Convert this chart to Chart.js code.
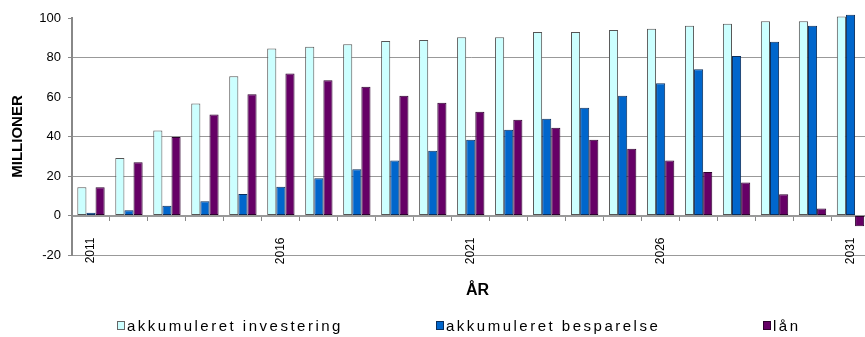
<!DOCTYPE html>
<html>
<head>
<meta charset="utf-8">
<script src="https://cdn.jsdelivr.net/npm/chart.js@4/dist/chart.umd.min.js"></script>
<style>
  html, body { margin: 0; padding: 0; background: #fff; overflow: hidden; width: 865px; height: 337px; }
  #wrap { position: relative; width: 865px; height: 337px; overflow: hidden; }
  #c { position: absolute; left: 0; top: 0; }
  #xtitle { position: absolute; left: 466px; top: 281px; font: bold 16px "Liberation Sans", Arial, sans-serif; color: #000; }
  #legend { position: absolute; left: 0; top: 316px; width: 865px; height: 20px; font: 15px "Liberation Sans", Arial, sans-serif; letter-spacing: 2.5px; color: #000; }
  .item { position: absolute; top: 0; white-space: nowrap; line-height: 20px; }
  .sw { display: inline-block; width: 6px; height: 7px; border: 1px solid #333; margin-right: 2px; vertical-align: 1px; }
</style>
</head>
<body>
<div id="wrap">
  <canvas id="c" width="883" height="337"></canvas>
  <div id="xtitle">ÅR</div>
  <div id="legend"></div>
</div>
<script>
// Years on the category axis
const years = ['2011','2012','2013','2014','2015','2016','2017','2018','2019','2020',
               '2021','2022','2023','2024','2025','2026','2027','2028','2029','2030','2031'];
// Only every fifth year gets a label
const labelledYears = ['2011','2016','2021','2026','2031'];
// Horizontal gridlines that are drawn (0 is the axis line itself)
const gridValues = [80, 40, 20, -20];

// Series, in millions
const seriesNames = ['akkumuleret investering', 'akkumuleret besparelse', 'lån'];
const investering = [14.3, 29.1, 43.1, 56.7, 70.5, 84.5, 85.4, 86.7, 88.4, 88.9,
                     90.2, 90.3, 92.9, 92.9, 93.9, 94.6, 96.1, 97.1, 98.3, 98.3, 100.7];
const besparelse  = [1.4, 2.7, 4.9, 7.2, 10.9, 14.5, 18.9, 23.4, 27.8, 32.8,
                     38.4, 43.4, 49.0, 54.5, 60.6, 67.0, 74.1, 80.8, 88.0, 96.1, 101.7];
const laan        = [14.3, 26.9, 39.7, 51.2, 61.4, 71.9, 68.5, 65.2, 60.6, 57.1,
                     52.5, 48.5, 44.4, 38.4, 33.8, 27.9, 22.0, 16.7, 10.8, 3.5, -5.4];

const fills   = ['#CCFFFF', '#0066CC', '#660066'];
const borders = ['#555555', '#0A2E5C', '#2E002E'];

const values = [investering, besparelse, laan];
const datasets = seriesNames.map((name, i) => ({
  label: name,
  data: values[i],
  backgroundColor: fills[i],
  borderColor: borders[i],
  borderWidth: 1,
  borderSkipped: false,
  categoryPercentage: 0.72,
  barPercentage: 1.0,
  clip: false
}));

// Legend below the plot
const legend = document.getElementById('legend');
const legendX = [117, 436, 763];
seriesNames.forEach((name, i) => {
  const it = document.createElement('div');
  it.className = 'item';
  it.style.left = legendX[i] + 'px';
  const sw = document.createElement('span');
  sw.className = 'sw';
  sw.style.background = fills[i];
  sw.style.borderColor = i === 0 ? '#666' : borders[i];
  it.appendChild(sw);
  it.appendChild(document.createTextNode(name));
  legend.appendChild(it);
});

const font = 'Liberation Sans';

new Chart(document.getElementById('c'), {
  type: 'bar',
  data: { labels: years, datasets },
  options: {
    responsive: false,
    animation: false,
    devicePixelRatio: 1,
    layout: { padding: { left: 0, top: 18, right: 4, bottom: 82 } },
    plugins: { legend: { display: false }, tooltip: { enabled: false } },
    scales: {
      x: {
        position: { y: 0 },
        offset: true,
        grid: {
          display: true,
          offset: true,
          drawOnChartArea: false,
          drawTicks: true,
          tickLength: 4,
          color: '#888',
          lineWidth: 1
        },
        border: { display: true, color: '#999', width: 2 },
        ticks: {
          autoSkip: false,
          minRotation: 90,
          maxRotation: 90,
          padding: 18,
          color: '#000',
          font: { family: font, size: 12 },
          callback: function (v, i) {
            const y = years[i];
            return labelledYears.includes(y) ? y : '';
          }
        }
      },
      y: {
        min: -20,
        max: 100,
        afterFit: (scale) => { scale.width = 72; },
        ticks: {
          stepSize: 20,
          padding: 7,
          color: '#000',
          font: { family: font, size: 13 }
        },
        grid: {
          drawTicks: true,
          tickLength: 4,
          tickColor: '#888',
          lineWidth: 1,
          color: (ctx) => (ctx.tick && gridValues.includes(ctx.tick.value)) ? '#999' : 'rgba(0,0,0,0)'
        },
        border: { display: true, color: '#888', width: 2 },
        title: {
          display: true,
          text: 'MILLIONER',
          color: '#000',
          padding: { top: 9, bottom: 0 },
          font: { family: font, size: 15, weight: 'bold' }
        }
      }
    }
  }
});
</script>
</body>
</html>
